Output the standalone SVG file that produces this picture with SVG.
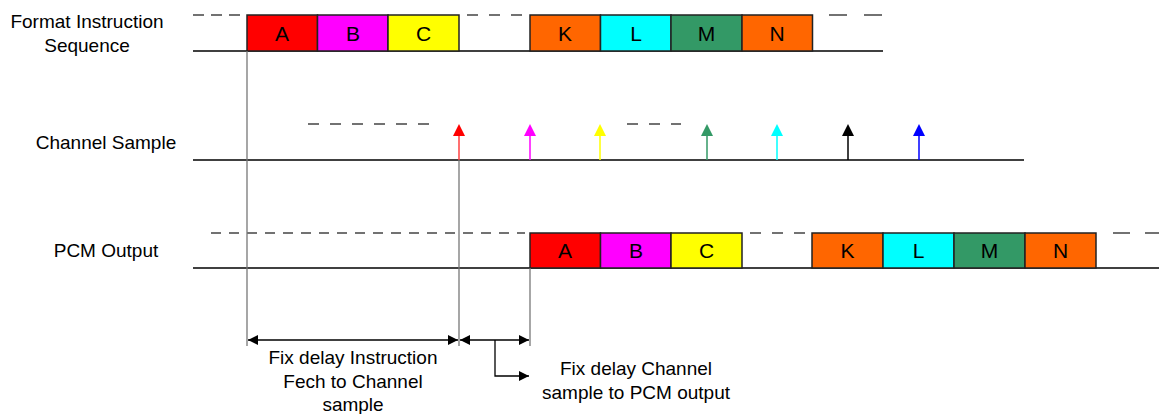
<svg xmlns="http://www.w3.org/2000/svg" width="1159" height="414" viewBox="0 0 1159 414">
  <style>
    .lbl { font-family: "Liberation Sans", Arial, sans-serif; font-size: 19px; fill: #000; text-anchor: middle; }
    .box { stroke: #222; stroke-width: 1.5; }
    .boxtxt { font-family: "Liberation Sans", Arial, sans-serif; font-size: 21px; fill: #000; text-anchor: middle; }
    .base { stroke: #000; stroke-width: 1.5; fill: none; }
    .dash { stroke: #444; stroke-width: 1.5; fill: none; stroke-dasharray: 11 11; }
    .guide { stroke: #777; stroke-width: 1.3; fill: none; }
    .dim { stroke: #000; stroke-width: 1.3; fill: none; }
  </style>
  <defs>
    <marker id="ah" viewBox="0 0 10 10" refX="10" refY="5" markerWidth="10" markerHeight="10" markerUnits="userSpaceOnUse" orient="auto-start-reverse">
      <path d="M0,0 L10,5 L0,10 z" fill="#000"/>
    </marker>
  </defs>
  <rect width="1159" height="414" fill="#fff"/>

  <!-- row titles -->
  <g id="title-format">
    <text class="lbl" x="87" y="28">Format Instruction</text>
    <text class="lbl" x="87" y="52">Sequence</text>
  </g>
  <g id="title-channel"><text class="lbl" x="106" y="149">Channel Sample</text></g>
  <g id="title-pcm"><text class="lbl" x="106" y="257">PCM Output</text></g>

  <!-- timing baselines and idle dashes -->
  <g id="timelines">
    <line class="base" x1="193" y1="51" x2="883" y2="51"/>
    <line class="dash" x1="193" y1="15" x2="247" y2="15" style="stroke-dasharray:11 7"/>
    <line class="dash" x1="467" y1="15" x2="530" y2="15"/>
    <line class="dash" x1="829" y1="15" x2="883" y2="15" style="stroke-dasharray:18 17"/>

    <line class="base" x1="193" y1="160" x2="1024" y2="160"/>
    <line class="dash" x1="308" y1="124" x2="434" y2="124"/>
    <line class="dash" x1="627" y1="124" x2="681" y2="124"/>

    <line class="base" x1="193" y1="268" x2="1159" y2="268"/>
    <line class="dash" x1="211" y1="233" x2="525" y2="233" style="stroke-dasharray:10 8"/>
    <line class="dash" x1="750" y1="233" x2="806" y2="233" style="stroke-dasharray:11 11"/>
    <line class="dash" x1="1113" y1="233" x2="1159" y2="233" style="stroke-dasharray:17 15"/>
  </g>

  <!-- instruction sequence -->
  <g id="seq-A"><rect class="box" x="247" y="15" width="70.5" height="36" fill="#ff0000"/><text class="boxtxt" x="282" y="41">A</text></g>
  <g id="seq-B"><rect class="box" x="317.5" y="15" width="70.5" height="36" fill="#ff00ff"/><text class="boxtxt" x="353" y="41">B</text></g>
  <g id="seq-C"><rect class="box" x="388" y="15" width="71" height="36" fill="#ffff00"/><text class="boxtxt" x="423.5" y="41">C</text></g>
  <g id="seq-K"><rect class="box" x="530" y="15" width="70.5" height="36" fill="#ff6600"/><text class="boxtxt" x="565" y="41">K</text></g>
  <g id="seq-L"><rect class="box" x="600.5" y="15" width="70.5" height="36" fill="#00ffff"/><text class="boxtxt" x="636" y="41">L</text></g>
  <g id="seq-M"><rect class="box" x="671" y="15" width="71" height="36" fill="#339966"/><text class="boxtxt" x="706.5" y="41">M</text></g>
  <g id="seq-N"><rect class="box" x="742" y="15" width="70.5" height="36" fill="#ff6600"/><text class="boxtxt" x="777" y="41">N</text></g>

  <!-- PCM output -->
  <g id="pcm-A"><rect class="box" x="530" y="233" width="70.5" height="35" fill="#ff0000"/><text class="boxtxt" x="565" y="258">A</text></g>
  <g id="pcm-B"><rect class="box" x="600.5" y="233" width="70.5" height="35" fill="#ff00ff"/><text class="boxtxt" x="636" y="258">B</text></g>
  <g id="pcm-C"><rect class="box" x="671" y="233" width="71" height="35" fill="#ffff00"/><text class="boxtxt" x="706.5" y="258">C</text></g>
  <g id="pcm-K"><rect class="box" x="812" y="233" width="71" height="35" fill="#ff6600"/><text class="boxtxt" x="847.5" y="258">K</text></g>
  <g id="pcm-L"><rect class="box" x="883" y="233" width="71" height="35" fill="#00ffff"/><text class="boxtxt" x="918.5" y="258">L</text></g>
  <g id="pcm-M"><rect class="box" x="954" y="233" width="71" height="35" fill="#339966"/><text class="boxtxt" x="989.5" y="258">M</text></g>
  <g id="pcm-N"><rect class="box" x="1025" y="233" width="71" height="35" fill="#ff6600"/><text class="boxtxt" x="1060.5" y="258">N</text></g>

  <!-- channel sample strobes -->
  <g id="samples" stroke-width="1.5">
    <line x1="459" y1="160" x2="459" y2="134" stroke="#ff4040"/><path d="M453,136 L459,124 L465,136 z" fill="#ff0000"/>
    <line x1="530" y1="160" x2="530" y2="134" stroke="#ff00ff"/><path d="M524,136 L530,124 L536,136 z" fill="#ff00ff"/>
    <line x1="600" y1="160" x2="600" y2="134" stroke="#ffff00"/><path d="M594,136 L600,124 L606,136 z" fill="#ffff00"/>
    <line x1="707" y1="160" x2="707" y2="134" stroke="#339966"/><path d="M701,136 L707,124 L713,136 z" fill="#339966"/>
    <line x1="777" y1="160" x2="777" y2="134" stroke="#00ffff"/><path d="M771,136 L777,124 L783,136 z" fill="#00ffff"/>
    <line x1="848" y1="160" x2="848" y2="134" stroke="#000"/><path d="M842,136 L848,124 L854,136 z" fill="#000"/>
    <line x1="919" y1="160" x2="919" y2="134" stroke="#0000ff"/><path d="M913,136 L919,124 L925,136 z" fill="#0000ff"/>
  </g>

  <!-- delay guides and dimension connectors -->
  <g id="connectors">
    <line class="guide" x1="247" y1="51" x2="247" y2="346"/>
    <line class="guide" x1="459" y1="160" x2="459" y2="346"/>
    <line class="guide" x1="530" y1="268" x2="530" y2="346"/>
    <line class="dim" x1="248" y1="340" x2="458" y2="340" marker-start="url(#ah)" marker-end="url(#ah)"/>
    <line class="dim" x1="460" y1="340" x2="529" y2="340" marker-start="url(#ah)" marker-end="url(#ah)"/>
    <polyline class="dim" points="495,340 495,376 529,376" marker-end="url(#ah)"/>
  </g>

  <g id="label-fetch-delay">
    <text class="lbl" x="353" y="364">Fix delay Instruction</text>
    <text class="lbl" x="353" y="388">Fech to Channel</text>
    <text class="lbl" x="353" y="411">sample</text>
  </g>
  <g id="label-pcm-delay">
    <text class="lbl" x="636" y="375">Fix delay Channel</text>
    <text class="lbl" x="636" y="399">sample to PCM output</text>
  </g>
</svg>
